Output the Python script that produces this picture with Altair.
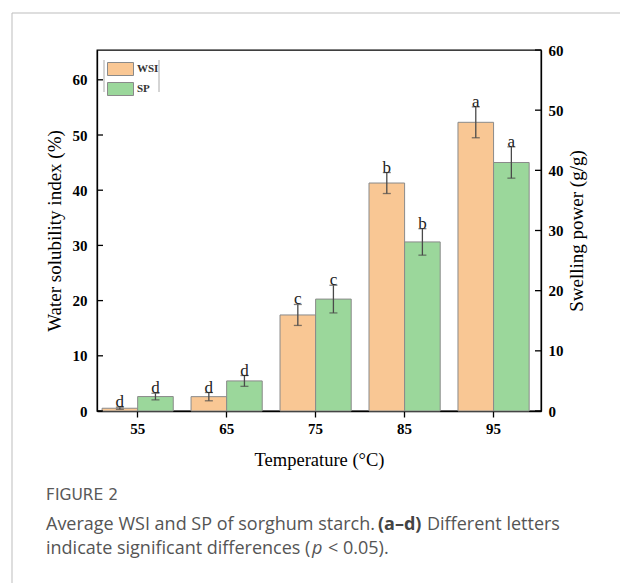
import altair as alt
import pandas as pd

# ---------------- data ----------------
temps = ["55", "65", "75", "85", "95"]
series = ["WSI", "SP"]
wsi = [0.5, 2.6, 17.4, 41.3, 52.3]
wsi_err = [0.2, 0.75, 1.9, 1.9, 2.8]
wsi_letters = ["d", "d", "c", "b", "a"]
sp = [2.4, 5.0, 18.6, 28.1, 41.3]
sp_err = [0.55, 0.9, 2.3, 2.2, 2.6]
sp_letters = ["d", "d", "c", "b", "a"]
left_ticks = [0, 10, 20, 30, 40, 50, 60]
right_ticks = [0, 10, 20, 30, 40, 50, 60]
colors = ["#F9C794", "#9BD79B"]

W, H = 444, 361
SERIF = "Liberation Serif"
SANS = "Open Sans"


def make_df(vals, errs, letters, name):
    return pd.DataFrame({
        "temp": temps,
        "series": name,
        "value": vals,
        "lo": [v - e for v, e in zip(vals, errs)],
        "hi": [v + e for v, e in zip(vals, errs)],
        "letter": letters,
    })


df_wsi = make_df(wsi, wsi_err, wsi_letters, "WSI")
df_sp = make_df(sp, sp_err, sp_letters, "SP")

x_scale = alt.Scale(domain=temps, paddingInner=0.2, paddingOuter=0.095, align=0.3)
x_axis = alt.Axis(
    title="Temperature (°C)", labelAngle=0, tickSize=6, tickWidth=1.3, tickColor="black",
    domainColor="black", domainWidth=1.3, labelPadding=4,
    labelFont=SERIF, labelFontWeight="bold", labelFontSize=15, labelColor="black",
    titleFont=SERIF, titleFontWeight="normal", titleFontSize=18.5, titleColor="black",
    titlePadding=14, grid=False,
)
xoff = alt.XOffset("series:N", scale=alt.Scale(domain=series, paddingInner=0, paddingOuter=0))
color = alt.Color(
    "series:N",
    scale=alt.Scale(domain=series, range=colors),
    legend=alt.Legend(
        title=None, orient="none", legendX=16.5, legendY=12, padding=0,
        symbolType="M-2,-1H2V1H-2Z", symbolSize=169, symbolStrokeColor="#8a8a8a",
        symbolStrokeWidth=1, symbolOpacity=1, rowPadding=2, labelOffset=9.5,
        labelFont=SERIF, labelFontWeight="bold", labelFontSize=11, labelColor="#333333",
    ),
)


def group(df, domain, orient, ticks, title, tick_x, with_x_axis):
    y_scale = alt.Scale(domain=domain, nice=False, zero=True)
    y_axis = alt.Axis(
        orient=orient, values=ticks, title=title, tickSize=0,
        labelPadding=10 if orient == "left" else 7,
        labelFont=SERIF, labelFontWeight="bold", labelFontSize=15, labelColor="black",
        titleFont=SERIF, titleFontWeight="normal", titleFontSize=19, titleColor="black",
        titlePadding=8 if orient == "left" else 23, titleAngle=270,
        domainColor="black", domainWidth=1.3, grid=False,
    )
    xenc = alt.X("temp:N", sort=temps, scale=x_scale)
    base = alt.Chart(df)
    bars = base.mark_bar(stroke="#8a8a8a", strokeWidth=1, opacity=1).encode(
        x=alt.X("temp:N", sort=temps, scale=x_scale, axis=x_axis) if with_x_axis else xenc,
        xOffset=xoff,
        y=alt.Y("value:Q", scale=y_scale, axis=y_axis),
        color=color,
    )
    err = base.mark_rule(color="#4a4a4a", strokeWidth=1.3).encode(
        x=xenc, xOffset=xoff,
        y=alt.Y("lo:Q", scale=y_scale, axis=None),
        y2="hi:Q",
    )
    cap_lo = base.mark_tick(color="#4a4a4a", thickness=1.3, size=8).encode(
        x=xenc, xOffset=xoff,
        y=alt.Y("lo:Q", scale=y_scale, axis=None),
    )
    cap_hi = base.mark_tick(color="#4a4a4a", thickness=1.3, size=8).encode(
        x=xenc, xOffset=xoff,
        y=alt.Y("hi:Q", scale=y_scale, axis=None),
    )
    letters = base.mark_text(font=SERIF, fontSize=17, color="#222222",
                             baseline="alphabetic", dy=0).encode(
        x=xenc, xOffset=xoff,
        y=alt.Y("hi:Q", scale=y_scale, axis=None),
        text="letter:N",
    )
    tdf = pd.DataFrame({"t": ticks})
    inward = alt.Chart(tdf).mark_rule(color="black", strokeWidth=1.3).encode(
        x=alt.value(tick_x[0]), x2=alt.value(tick_x[1]),
        y=alt.Y("t:Q", scale=y_scale, axis=None),
    )
    return [bars, err, cap_lo, cap_hi, letters, inward]


left = group(df_wsi, [0, 65.4], "left", left_ticks, "Water solubility index (%)", (0, 6), True)
right = group(df_sp, [0, 60], "right", right_ticks, "Swelling power (g/g)", (W - 6, W), False)

dummy = alt.Data(values=[{"k": 1}])


def txt(s, x, y, size=18, weight="normal", style="normal", col="#555555", font=SANS):
    return alt.Chart(dummy).mark_text(
        align="left", baseline="alphabetic", font=font, fontSize=size,
        fontWeight=weight, fontStyle=style, color=col,
    ).encode(x=alt.value(x), y=alt.value(y), text=alt.value(s))


def rule(x, y, x2=None, y2=None, col="#bdbdbd"):
    enc = dict(x=alt.value(x), y=alt.value(y))
    if x2 is not None:
        enc["x2"] = alt.value(x2)
    if y2 is not None:
        enc["y2"] = alt.value(y2)
    return alt.Chart(dummy).mark_rule(color=col, strokeWidth=1).encode(**enc)


extras = [
    rule(-85, -37, y2=533),
    rule(-85, -37, x2=523),
    rule(7, 10, y2=42, col="#aaaaaa"),
    rule(62, 10, y2=42, col="#aaaaaa"),
    txt("FIGURE 2", -51, 450, size=15.5, col="#5a5a5a", font="DejaVu Sans"),
    txt("Average WSI and SP of sorghum starch.", -51, 480),
    txt("(a\u2013d)", 281, 480, weight="bold", col="#444444"),
    txt("Different letters", 330, 480),
    txt("indicate significant differences (", -51, 504),
    txt("p", 215, 504, style="italic"),
    txt("< 0.05).", 231, 504),
]

chart = alt.layer(*left, *right, *extras).resolve_scale(y="independent").properties(
    width=W, height=H,
    padding={"left": 97, "top": 50, "right": 79, "bottom": 172},
    autosize=alt.AutoSizeParams(type="none"),
    background="white",
).configure_view(stroke="black", strokeWidth=1.3)

chart.save("out.html", embed_options={"renderer": "svg", "actions": False})
